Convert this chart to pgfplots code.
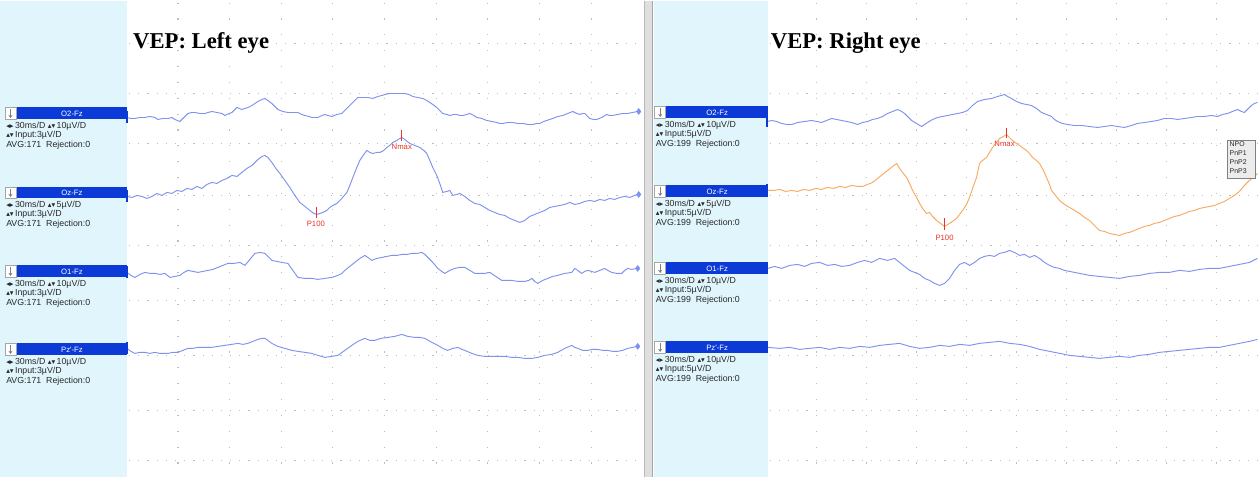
\documentclass[border=0pt]{standalone}
\usepackage{pgfplots}
\pgfplotsset{compat=1.18}
\usetikzlibrary{calc,arrows.meta}
\usepackage{fontspec}
\setmainfont{Liberation Serif}
\newfontfamily\lab{Liberation Sans}
\newfontfamily\sym{DejaVu Sans}
\definecolor{lblue}{RGB}{225,246,252}
\definecolor{barblue}{RGB}{12,58,214}
\definecolor{trace}{RGB}{126,146,238}
\definecolor{otrace}{RGB}{248,170,98}
\definecolor{mred}{RGB}{232,52,40}
\definecolor{gridc}{RGB}{190,190,190}
\definecolor{txt}{RGB}{40,40,40}
% #1 x left, #2 x right, #3 y top, #4 y bottom, #5 name, #6 #7 #8 lines
\newcommand{\chlab}[8]{%
  \fill[barblue] (axis cs:#1,#3) rectangle (axis cs:#2,#4);
  \draw[gray!70,fill=white,line width=0.4pt] (axis cs:#1,#3) rectangle (axis cs:{#1+11},#4);
  \draw[gray,line width=0.5pt,-{Stealth[length=2.2pt,width=3pt]}] (axis cs:{#1+5.5},{#3+2}) -- (axis cs:{#1+5.5},{#4-1.5});
  \node[font=\lab\fontsize{5.8}{6}\selectfont,text=white,inner sep=0pt] at ($(axis cs:{#1+12},#3)!0.5!(axis cs:#2,#4)$) {#5};
  \node[anchor=north west,align=left,font=\lab\fontsize{6.6}{7.3}\selectfont,text=txt,inner sep=0pt] at (axis cs:{#1+1},{#4+2}) {#6\\#7\\#8};
}
\newcommand{\hs}{{\sym\fontsize{5.5}{6}\selectfont ◂▸}}
\newcommand{\vs}{{\sym\fontsize{5.5}{6}\selectfont ▴▾}}
\begin{document}
\begin{tikzpicture}
\begin{axis}[width=943.5pt,height=357.75pt,scale only axis,
  xmin=0,xmax=1258,ymin=0,ymax=477,y dir=reverse,hide axis,clip=false]
% backgrounds
\fill[white] (axis cs:0,0) rectangle (axis cs:1258,477);
\fill[lblue] (axis cs:0,0) rectangle (axis cs:127,477);
\fill[gray!25] (axis cs:644,0) rectangle (axis cs:653,477);
\draw[gray!70,line width=0.8pt] (axis cs:653,0) -- (axis cs:653,477);
\draw[gray!55,line width=0.6pt] (axis cs:645,0) -- (axis cs:645,477);
\fill[lblue] (axis cs:654,0) rectangle (axis cs:768,477);
% grid
\pgfplotsinvokeforeach{178,230,282,333,385,437,488,540,592}{
  \draw[gridc,line width=0.9pt,dash pattern=on 0.9pt off 11pt] (axis cs:#1,2) -- (axis cs:#1,477);}
\pgfplotsinvokeforeach{817,867,917,967,1017,1067,1117,1167,1217}{
  \draw[gridc,line width=0.9pt,dash pattern=on 0.9pt off 11pt] (axis cs:#1,2) -- (axis cs:#1,477);}
\pgfplotsinvokeforeach{43,93,143,195,245,300,355,410,460}{
  \draw[gridc,line width=0.9pt,dash pattern=on 0.9pt off 6pt] (axis cs:129,#1) -- (axis cs:643,#1);
  \draw[gridc,line width=0.9pt,dash pattern=on 0.9pt off 6pt] (axis cs:770,#1) -- (axis cs:1258,#1);}
% titles
\node[anchor=base west,font=\bfseries\fontsize{17}{18}\selectfont,inner sep=0pt] at (axis cs:133,48) {VEP: Left eye};
\node[anchor=base west,font=\bfseries\fontsize{17}{18}\selectfont,inner sep=0pt] at (axis cs:771,48) {VEP: Right eye};
% channel labels left
\chlab{5}{127}{107}{119}{O2-Fz}{\hs\,30ms/D \vs\,10µV/D}{\vs\,Input:3µV/D}{AVG:171\ \ Rejection:0}
\chlab{5}{127}{187}{198}{Oz-Fz}{\hs\,30ms/D \vs\,5µV/D}{\vs\,Input:3µV/D}{AVG:171\ \ Rejection:0}
\chlab{5}{127}{265}{277}{O1-Fz}{\hs\,30ms/D \vs\,10µV/D}{\vs\,Input:3µV/D}{AVG:171\ \ Rejection:0}
\chlab{5}{127}{343}{355}{Pz'-Fz}{\hs\,30ms/D \vs\,10µV/D}{\vs\,Input:3µV/D}{AVG:171\ \ Rejection:0}
% channel labels right
\chlab{655}{768}{106}{118}{O2-Fz}{\hs\,30ms/D \vs\,10µV/D}{\vs\,Input:5µV/D}{AVG:199\ \ Rejection:0}
\chlab{655}{768}{185}{197}{Oz-Fz}{\hs\,30ms/D \vs\,5µV/D}{\vs\,Input:5µV/D}{AVG:199\ \ Rejection:0}
\chlab{655}{768}{262}{274}{O1-Fz}{\hs\,30ms/D \vs\,10µV/D}{\vs\,Input:5µV/D}{AVG:199\ \ Rejection:0}
\chlab{655}{768}{341}{353}{Pz'-Fz}{\hs\,30ms/D \vs\,10µV/D}{\vs\,Input:5µV/D}{AVG:199\ \ Rejection:0}
% ---------- left traces
\addplot[trace,line width=0.7pt] coordinates {(127,117)(131,118)(135,118)(140,117)(145,117)(150,116)(155,117)(158,119)(163,118)(168,118)(172,117)(175,119)(180,121)(184,117)(188,113)(192,112)(195,112)(200,113)(205,113)(208,112)(212,111)(217,112)(222,113)(225,115)(229,113)(232,112)(237,107)(242,109)(245,108)(248,107)(252,105)(255,103)(258,101)(262,99)(265,98)(268,100)(272,103)(275,106)(278,109)(283,111)(288,112)(293,112)(298,112)(302,114)(305,115)(309,116)(312,117)(315,117)(318,117)(322,115)(325,114)(328,115)(332,116)(337,114)(342,113)(347,108)(352,103)(355,100)(358,97)(363,97)(368,97)(373,98)(378,96)(382,95)(385,94)(390,93)(395,93)(400,93)(405,93)(409,94)(413,96)(418,97)(423,98)(427,100)(430,102)(433,104)(437,107)(440,110)(443,113)(447,114)(450,115)(454,114)(457,114)(460,115)(463,115)(467,114)(470,113)(474,115)(477,117)(482,118)(487,120)(492,121)(497,122)(500,123)(503,123)(508,122)(513,122)(518,123)(523,123)(528,124)(533,124)(537,123)(540,123)(544,121)(547,120)(550,119)(553,118)(558,116)(563,115)(568,113)(573,111)(577,113)(580,114)(583,113)(585,113)(588,116)(590,118)(594,119)(597,119)(602,117)(607,114)(610,115)(613,115)(618,114)(623,113)(628,113)(633,112)(638,111)};
\addplot[trace,line width=0.7pt] coordinates {(127,196)(132,197)(137,195)(142,196)(147,198)(152,196)(157,193)(162,195)(167,192)(172,193)(177,190)(182,191)(187,188)(192,189)(197,186)(202,188)(207,184)(212,182)(217,183)(222,180)(227,178)(232,175)(237,176)(242,172)(247,168)(252,165)(257,160)(262,156)(265,155)(268,157)(272,162)(276,168)(280,173)(285,180)(290,187)(295,195)(300,202)(305,206)(310,210)(314,213)(317,214)(320,213)(323,212)(327,210)(330,207)(333,205)(337,203)(342,198)(347,192)(350,185)(353,177)(357,167)(360,160)(364,154)(367,150)(370,152)(373,153)(377,152)(380,152)(384,150)(387,147)(390,145)(393,142)(397,140)(400,138)(402,137)(405,139)(410,143)(415,145)(420,147)(424,150)(427,153)(430,160)(433,167)(437,175)(440,183)(443,192)(447,191)(450,190)(453,195)(457,194)(460,193)(465,196)(470,200)(475,203)(480,204)(485,207)(490,210)(495,212)(500,214)(505,215)(510,218)(515,220)(520,222)(525,220)(530,216)(535,214)(540,212)(545,210)(550,207)(555,206)(560,205)(565,204)(570,202)(575,204)(580,203)(585,201)(590,200)(595,201)(600,199)(605,200)(610,198)(615,199)(620,197)(625,196)(630,197)(635,195)(638,194)};
\addplot[trace,line width=0.7pt] coordinates {(127,272)(131,275)(135,277)(140,274)(145,272)(150,273)(155,273)(160,274)(165,273)(170,277)(175,276)(180,275)(184,272)(188,270)(193,271)(198,272)(203,271)(208,270)(213,269)(218,267)(223,265)(228,263)(234,263)(240,262)(245,265)(250,259)(255,253)(260,252)(265,253)(268,256)(272,260)(277,261)(282,262)(288,263)(293,270)(298,277)(305,278)(312,278)(318,279)(325,278)(332,277)(338,275)(342,273)(345,270)(350,266)(355,262)(360,258)(365,255)(368,257)(372,260)(377,258)(382,257)(387,256)(392,255)(397,255)(402,254)(407,254)(412,253)(417,253)(422,252)(425,254)(428,257)(433,262)(438,268)(442,271)(445,273)(450,270)(455,268)(460,267)(465,267)(470,270)(475,273)(480,273)(485,273)(490,272)(496,276)(502,280)(507,280)(512,280)(518,281)(525,281)(529,280)(532,278)(535,281)(538,283)(543,280)(548,278)(553,276)(558,275)(565,273)(572,272)(575,268)(578,270)(582,273)(585,271)(588,270)(592,271)(595,272)(600,270)(605,268)(608,270)(612,272)(617,273)(622,273)(625,270)(628,268)(632,269)(637,268)};
\addplot[trace,line width=0.7pt] coordinates {(127,348)(131,351)(135,353)(140,352)(145,352)(150,353)(155,352)(160,353)(168,353)(173,352)(178,352)(183,350)(188,348)(193,348)(198,347)(205,347)(212,347)(218,346)(225,345)(232,344)(238,343)(243,344)(248,343)(253,341)(258,339)(262,338)(265,338)(268,340)(272,343)(278,346)(285,348)(292,350)(298,351)(305,352)(312,353)(318,355)(325,357)(332,356)(338,355)(345,350)(352,345)(358,341)(365,338)(370,340)(375,340)(381,338)(388,337)(395,336)(402,334)(408,336)(415,337)(420,337)(425,338)(432,342)(438,345)(443,348)(448,350)(453,348)(458,347)(462,349)(465,350)(472,353)(478,355)(485,356)(492,356)(498,356)(505,356)(512,357)(518,357)(525,358)(532,358)(538,357)(545,355)(552,354)(558,352)(565,348)(572,345)(575,347)(578,348)(583,350)(588,350)(593,349)(598,349)(603,350)(608,350)(613,351)(618,351)(623,350)(628,348)(633,347)(637,346)};
% start / end markers left
\pgfplotsinvokeforeach{117,196,272,348}{\draw[barblue,line width=1.6pt] (axis cs:127,{#1-6}) -- (axis cs:127,{#1+6});}
\addplot[only marks,mark=diamond*,mark size=2.2pt,color=trace] coordinates {(639,111)(639,194)(638,268)(638,346)};
% markers left
\draw[mred,line width=0.5pt] (axis cs:316,207) -- (axis cs:316,218);
\node[font=\lab\fontsize{5.8}{6}\selectfont,text=mred,inner sep=0pt] at (axis cs:316,223.5) {P100};
\draw[mred,line width=0.5pt] (axis cs:402,130) -- (axis cs:402,141);
\node[font=\lab\fontsize{5.8}{6}\selectfont,text=mred,inner sep=0pt] at (axis cs:402,146) {Nmax};
% ---------- right traces
\addplot[trace,line width=0.7pt] coordinates {(768,121)(772,120)(777,121)(782,123)(787,124)(792,124)(798,122)(805,121)(812,120)(817,121)(822,122)(827,120)(832,118)(837,119)(842,120)(847,121)(852,122)(855,123)(858,124)(863,122)(868,121)(873,119)(878,118)(883,116)(888,113)(893,111)(898,109)(902,111)(905,113)(908,116)(912,120)(917,123)(922,126)(925,124)(928,122)(933,119)(938,117)(943,116)(948,115)(953,114)(958,113)(963,112)(968,110)(973,105)(978,101)(985,99)(992,98)(998,96)(1005,94)(1008,96)(1012,98)(1017,101)(1022,103)(1027,104)(1032,105)(1037,108)(1042,112)(1047,114)(1052,116)(1055,119)(1058,121)(1063,123)(1068,124)(1075,125)(1082,125)(1090,126)(1098,127)(1105,126)(1112,125)(1118,126)(1125,127)(1132,125)(1138,123)(1145,122)(1152,121)(1158,120)(1165,118)(1172,118)(1178,119)(1185,118)(1192,117)(1198,116)(1205,116)(1212,115)(1218,116)(1223,114)(1228,113)(1233,111)(1238,109)(1242,111)(1245,112)(1249,108)(1252,105)(1255,103)(1258,102)};
\addplot[otrace,line width=0.7pt] coordinates {(768,190)(774,190)(780,189)(786,191)(792,190)(798,191)(804,189)(810,190)(816,188)(822,189)(828,187)(834,188)(840,186)(846,187)(852,185)(858,186)(863,186)(868,184)(873,182)(878,178)(883,174)(888,170)(893,166)(897,163)(900,168)(903,172)(907,177)(910,183)(913,190)(917,197)(920,203)(923,208)(927,213)(930,212)(933,216)(937,220)(941,223)(945,226)(950,223)(953,221)(957,218)(960,214)(963,210)(967,204)(970,197)(973,188)(977,177)(980,163)(983,160)(987,157)(990,152)(993,147)(997,142)(1000,138)(1004,136)(1007,134)(1010,137)(1013,140)(1017,143)(1020,145)(1024,148)(1027,150)(1030,153)(1033,157)(1037,160)(1040,163)(1044,170)(1047,177)(1050,184)(1052,190)(1056,195)(1060,200)(1065,204)(1070,207)(1075,210)(1080,213)(1085,217)(1090,220)(1095,225)(1100,230)(1105,231)(1110,233)(1115,234)(1120,235)(1125,233)(1130,232)(1135,230)(1140,228)(1145,226)(1150,225)(1155,223)(1160,222)(1165,220)(1170,218)(1175,216)(1180,215)(1185,213)(1190,211)(1195,210)(1200,208)(1205,207)(1210,206)(1215,205)(1220,203)(1225,201)(1230,198)(1235,195)(1240,191)(1245,185)(1250,180)(1255,176)(1258,173)};
\addplot[trace,line width=0.7pt] coordinates {(768,268)(775,266)(782,268)(790,265)(798,264)(805,266)(812,263)(820,262)(828,265)(835,264)(842,266)(850,265)(858,262)(865,260)(872,262)(880,258)(888,260)(895,258)(900,262)(905,266)(910,270)(915,272)(920,274)(925,278)(930,280)(935,283)(940,285)(945,283)(950,278)(955,270)(960,264)(965,262)(970,265)(975,262)(980,258)(985,256)(990,255)(995,256)(1000,253)(1005,252)(1010,250)(1015,252)(1020,255)(1025,254)(1030,257)(1035,255)(1040,258)(1045,262)(1050,265)(1055,267)(1060,268)(1065,270)(1070,271)(1080,273)(1090,275)(1100,276)(1110,277)(1120,278)(1130,276)(1140,275)(1150,273)(1160,272)(1170,272)(1180,270)(1190,271)(1200,269)(1210,268)(1220,268)(1230,266)(1240,264)(1250,262)(1258,258)};
\addplot[trace,line width=0.7pt] coordinates {(768,347)(780,348)(790,347)(800,349)(810,348)(820,347)(830,349)(840,347)(850,348)(860,346)(870,347)(880,345)(890,344)(900,343)(910,346)(920,348)(930,347)(940,345)(950,346)(960,344)(970,345)(980,343)(990,342)(1000,341)(1010,343)(1020,344)(1030,346)(1040,349)(1050,351)(1060,353)(1070,355)(1080,356)(1090,357)(1100,358)(1110,357)(1120,356)(1130,357)(1140,355)(1150,354)(1160,352)(1170,351)(1180,350)(1190,349)(1200,348)(1210,347)(1220,347)(1230,345)(1240,343)(1250,341)(1258,339)};
\pgfplotsinvokeforeach{121,190,268,347}{\draw[barblue,line width=1.6pt] (axis cs:767,{#1-6}) -- (axis cs:767,{#1+6});}
% markers right
\draw[mred,line width=0.5pt] (axis cs:945,218) -- (axis cs:945,230);
\node[font=\lab\fontsize{5.8}{6}\selectfont,text=mred,inner sep=0pt] at (axis cs:945,237) {P100};
\draw[mred,line width=0.5pt] (axis cs:1007,128) -- (axis cs:1007,138);
\node[font=\lab\fontsize{5.8}{6}\selectfont,text=mred,inner sep=0pt] at (axis cs:1005,143) {Nmax};
% small legend box
\draw[gray,fill=gray!15,line width=0.4pt] (axis cs:1228,140) rectangle (axis cs:1256,178);
\node[anchor=north west,align=left,font=\lab\fontsize{5.2}{6.8}\selectfont,text=txt,inner sep=0pt] at (axis cs:1230,141) {NPO\\PnP1\\PnP2\\PnP3};
\end{axis}
\end{tikzpicture}
\end{document}
